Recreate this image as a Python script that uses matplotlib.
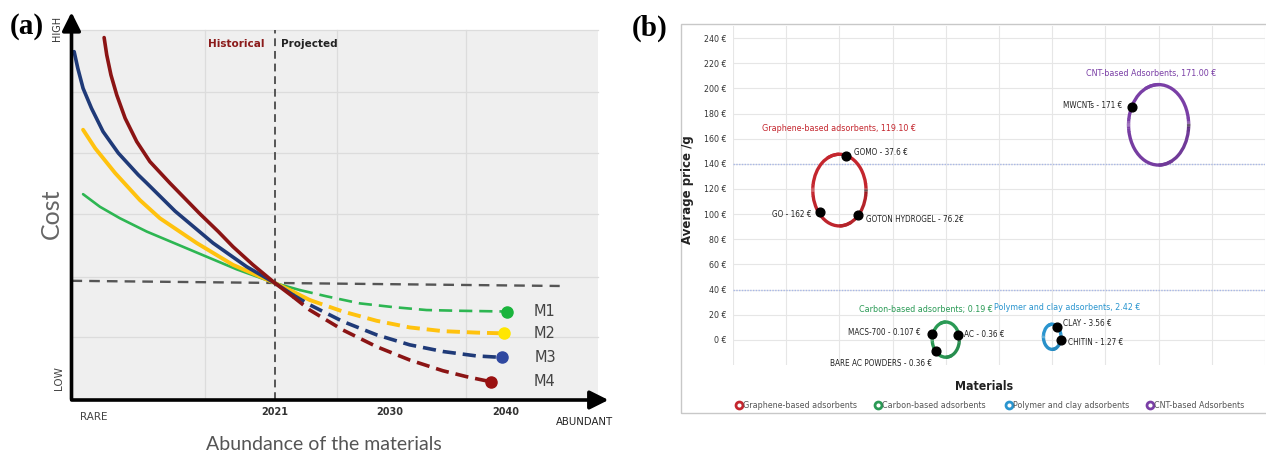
import numpy as np
import matplotlib
matplotlib.use("Agg")
import matplotlib.pyplot as plt
from matplotlib.patches import Rectangle, Arc
from matplotlib.lines import Line2D
from matplotlib.colors import to_rgb

# ---------------------------------------------------------------
# panel (a) : cost vs abundance (abstract units, 0..100)
# ---------------------------------------------------------------
m4_x = [6.2, 6.7, 7.5, 8.6, 10.2, 12.4, 14.9, 18.7, 24.4, 27.9, 30.7, 34.5, 38.65,
        42.1, 45.3, 51.6, 58.0, 64.3, 70.6, 75.1, 79.8]
m4_y = [97.9, 93.2, 87.8, 82.4, 76.1, 69.8, 64.4, 58.6, 50.3, 45.5, 41.4, 36.5, 31.6,
        27.9, 24.3, 18.9, 14.4, 10.8, 7.9, 6.3, 4.9]
m3_x = [0.5, 1.2, 2.2, 3.8, 6.0, 8.9, 12.7, 14.3, 19.7, 26.9, 33.3, 38.65,
        42.1, 45.3, 51.6, 58.0, 64.3, 70.6, 77.0, 81.9]
m3_y = [94.1, 89.6, 84.2, 78.8, 72.5, 66.7, 60.8, 58.6, 51.0, 42.4, 36.0, 31.6,
        28.4, 25.7, 21.2, 17.6, 14.9, 13.1, 11.9, 11.5]
m2_x = [2.2, 4.5, 8.3, 13.0, 16.8, 23.8, 30.7, 38.65,
        42.1, 45.3, 51.6, 58.0, 64.3, 70.6, 77.0, 82.3]
m2_y = [73.0, 68.0, 61.3, 54.0, 49.1, 42.4, 36.5, 31.6,
        29.3, 27.0, 23.9, 21.4, 19.6, 18.6, 18.2, 18.0]
m1_x = [2.2, 5.4, 9.2, 14.3, 20.0, 25.7, 31.4, 38.65,
        43.4, 48.5, 54.8, 61.1, 67.5, 73.8, 82.7]
m1_y = [55.6, 52.2, 49.1, 45.5, 42.1, 38.7, 35.3, 31.6,
        29.7, 28.0, 26.1, 25.1, 24.3, 24.1, 23.9]
curve_names = ["M1", "M2", "M3", "M4"]
year_ticks = [38.65, 60.5, 82.6]
year_labels = ["2021", "2030", "2040"]
now_x = 38.65
ref_cost = [32.2, 30.8]

# ---------------------------------------------------------------
# panel (b) : bubble chart of adsorbent prices
# ---------------------------------------------------------------
groups = ["Graphene-based adsorbents", "Carbon-based adsorbents",
          "Polymer and clay adsorbents", "CNT-based Adsorbents"]
group_titles = ["Graphene-based adsorbents, 119.10 \u20ac",
                "Carbon-based adsorbents; 0.19 \u20ac",
                "Polymer and clay adsorbents, 2.42 \u20ac",
                "CNT-based Adsorbents, 171.00 \u20ac"]
group_x = [2.0, 4.0, 6.0, 8.0]
group_price = [119.10, 0.19, 2.42, 171.00]
bubble_w = [1.0, 0.51, 0.33, 1.13]
bubble_h = [57, 28, 20, 64]
group_colors = ["#c4262e", "#2a9a55", "#2a95cf", "#7a3fa6"]

item_names = ["GOMO - 37.6 \u20ac", "GO - 162 \u20ac", "GOTON HYDROGEL - 76.2\u20ac",
              "MACS-700 - 0.107 \u20ac", "AC - 0.36 \u20ac", "BARE AC POWDERS - 0.36 \u20ac",
              "CLAY - 3.56 \u20ac", "CHITIN - 1.27 \u20ac", "MWCNTs - 171 \u20ac"]
item_x = [2.12, 1.64, 2.35, 3.74, 4.23, 3.82, 6.09, 6.16, 7.5]
item_y = [146, 102, 99.5, 5, 3.5, -8.5, 10, -0.5, 185]
price_ticks = list(range(0, 241, 20))

plt.rcParams['font.family'] = ['DejaVu Sans']
cond = dict(family='DejaVu Sans', stretch='condensed')

fig = plt.figure(figsize=(12.66, 4.54), dpi=100)
W, H = 1266.0, 454.0

# ======================= panel (a) =============================
ax = fig.add_axes([71.5 / W, 1 - 400 / H, 534.5 / W, 385 / H])
ax.set_xlim(0, 101.6)
ax.set_ylim(0, 104.0)
ax.axis('off')
ax.add_patch(Rectangle((0, 0), 100, 100, facecolor='#efefef', edgecolor='none', zorder=0))
for gx in [25.4, 50.5, 74.9]:
    ax.plot([gx, gx], [0, 100], color='#dcdcdc', lw=0.9, zorder=1)
for gy in [17.0, 33.2, 50.3, 66.8, 83.2, 100]:
    ax.plot([0, 100], [gy, gy], color='#dcdcdc', lw=0.9, zorder=1)

ax.plot([now_x, now_x], [0, 100], color='#555555', lw=1.4, dashes=(4, 2.5), zorder=2)
ax.plot([0, 92.8], ref_cost, color='#555555', lw=1.7, dashes=(4.5, 3), zorder=2)

curves = [(m1_x, m1_y, '#2db652', '#19b43c', 1.9, 9),
          (m2_x, m2_y, '#ffc20e', '#ffe600', 2.8, 10),
          (m3_x, m3_y, '#1f3a78', '#2f48a0', 2.6, 13),
          (m4_x, m4_y, '#8b1414', '#9a1010', 2.6, 14)]
for (cx, cy, col, mcol, lw, split), name in zip(curves, curve_names):
    ax.plot(cx[:split], cy[:split], color=col, lw=lw, solid_capstyle='round',
            solid_joinstyle='round', zorder=3)
    ax.plot(cx[split - 1:], cy[split - 1:], color=col, lw=lw,
            dashes=(9.5 / lw, 5.0 / lw), zorder=3)
    ax.plot(cx[-1], cy[-1], 'o', color=mcol, ms=8, zorder=4)
    ax.text(90.0, cy[-1], name, ha='center', va='center', fontsize=10.5,
            color='#444444', clip_on=False)

ax.annotate('', xy=(102.6, 0), xytext=(-0.5, 0),
            arrowprops=dict(arrowstyle='-|>', lw=2.6, color='black', mutation_scale=28),
            annotation_clip=False)
ax.annotate('', xy=(0, 105.5), xytext=(0, -0.5),
            arrowprops=dict(arrowstyle='-|>', lw=2.6, color='black', mutation_scale=28),
            annotation_clip=False)

for tx, tl in zip(year_ticks, year_labels):
    ax.text(tx, -3.3, tl, ha='center', va='center', fontsize=7, fontweight='bold', color='#333333')
ax.text(4.3, -4.7, 'RARE', ha='center', va='center', fontsize=7.5, color='#444444')
ax.text(97.5, -5.9, 'ABUNDANT', ha='center', va='center', fontsize=7.3, color='#222222', clip_on=False)
ax.text(48.0, -12.0, 'Abundance of the materials', ha='center', va='center',
        fontsize=14, color='#555555', family=['Lato', 'DejaVu Sans'])
ax.text(-3.9, 50.3, 'Cost', rotation=90, ha='center', va='center', fontsize=18,
        color='#666666', family=['Lato', 'DejaVu Sans'])
ax.text(-2.8, 100.5, 'HIGH', rotation=90, ha='center', va='center', fontsize=7, color='#333333')
ax.text(-2.3, 5.9, 'LOW', rotation=90, ha='center', va='center', fontsize=7.5, color='#444444')
ax.text(36.6, 96.2, 'Historical', ha='right', va='center', fontsize=7.5, fontweight='bold', color='#8b1a1a')
ax.text(39.8, 96.2, 'Projected', ha='left', va='center', fontsize=7.5, fontweight='bold', color='#222222')

fig.text(27 / W, 1 - 27 / H, '(a)', ha='center', va='center', fontsize=21,
         fontweight='bold', family='Liberation Serif')
fig.text(650 / W, 1 - 28 / H, '(b)', ha='center', va='center', fontsize=21,
         fontweight='bold', family='Liberation Serif')

# ======================= panel (b) =============================
fig.patches.append(Rectangle((681 / W, 1 - 413 / H), (1270 - 681) / W, (413 - 24) / H,
                             transform=fig.transFigure, facecolor='none',
                             edgecolor='#c8c8c8', lw=1.0))
bx = fig.add_axes([733 / W, 1 - 365 / H, 532 / W, 339.5 / H])
bx.set_xlim(0, 10)
bx.set_ylim(-20, 250)
for s in bx.spines.values():
    s.set_visible(False)
bx.set_xticks(np.arange(0, 11, 1))
bx.set_xticklabels([])
bx.set_yticks(price_ticks)
bx.set_yticklabels(['%d \u20ac' % v for v in price_ticks], fontsize=6.3, color='#333333', **cond)
bx.tick_params(length=0, pad=5)
bx.grid(True, color='#e6e6e6', lw=0.8)
bx.set_axisbelow(True)
for gy in [140, 40]:
    bx.axhline(gy, color='#a9b8e6', lw=1.0, ls=(0, (1, 1)), zorder=1)

for gxc, gp, bw, bh, col in zip(group_x, group_price, bubble_w, bubble_h, group_colors):
    rgb = np.array(to_rgb(col))
    for a0 in range(0, 360, 6):
        mid = np.deg2rad(a0 + 3)
        t = max(0.0, np.cos(mid - np.deg2rad(-10))) ** 1.6
        c = rgb * (1 - 0.9 * t)
        bx.add_patch(Arc((gxc, gp), bw, bh, theta1=a0, theta2=a0 + 6.5,
                         color=c, lw=2.4, zorder=3))

bx.plot(item_x, item_y, 'o', color='black', ms=6.3, zorder=5)

lab = dict(fontsize=5.9, color='#222222', va='center', zorder=6, **cond)
bx.text(2.27, 149, item_names[0], ha='left', **lab)
bx.text(1.47, 100, item_names[1], ha='right', **lab)
bx.text(2.50, 96, item_names[2], ha='left', **lab)
bx.text(3.52, 5.5, item_names[3], ha='right', **lab)
bx.text(4.34, 4.5, item_names[4], ha='left', **lab)
bx.text(3.74, -18.5, item_names[5], ha='right', **lab)
bx.text(6.20, 12.8, item_names[6], ha='left', **lab)
bx.text(6.30, -1.9, item_names[7], ha='left', **lab)
bx.text(7.31, 186, item_names[8], ha='right', **lab)

title_pos = [(2.0, 168), (3.63, 24.5), (6.28, 26), (7.87, 212)]
for (tx, ty), tl, col in zip(title_pos, group_titles, group_colors):
    bx.text(tx, ty, tl, ha='center', va='center', fontsize=6.4, color=col, **cond)

fig.text(687 / W, 1 - 190 / H, 'Average price /g', rotation=90, ha='center', va='center',
         fontsize=8.5, fontweight='bold', color='#222222')
fig.text(984 / W, 1 - 387 / H, 'Materials', ha='center', va='center',
         fontsize=8.8, fontweight='bold', color='#222222', **cond)

legend_x = [739, 878, 1009, 1150]
for lx, name, col in zip(legend_x, groups, group_colors):
    fig.add_artist(Line2D([lx / W], [1 - 405 / H], transform=fig.transFigure, ls='none',
                          marker='o', ms=5, mfc='white', mec=col, mew=2.0))
    fig.text((lx + 4) / W, 1 - 405 / H, name, ha='left', va='center',
             fontsize=6.4, color='#555555', **cond)

fig.savefig('out.png', dpi=100, facecolor='white')
